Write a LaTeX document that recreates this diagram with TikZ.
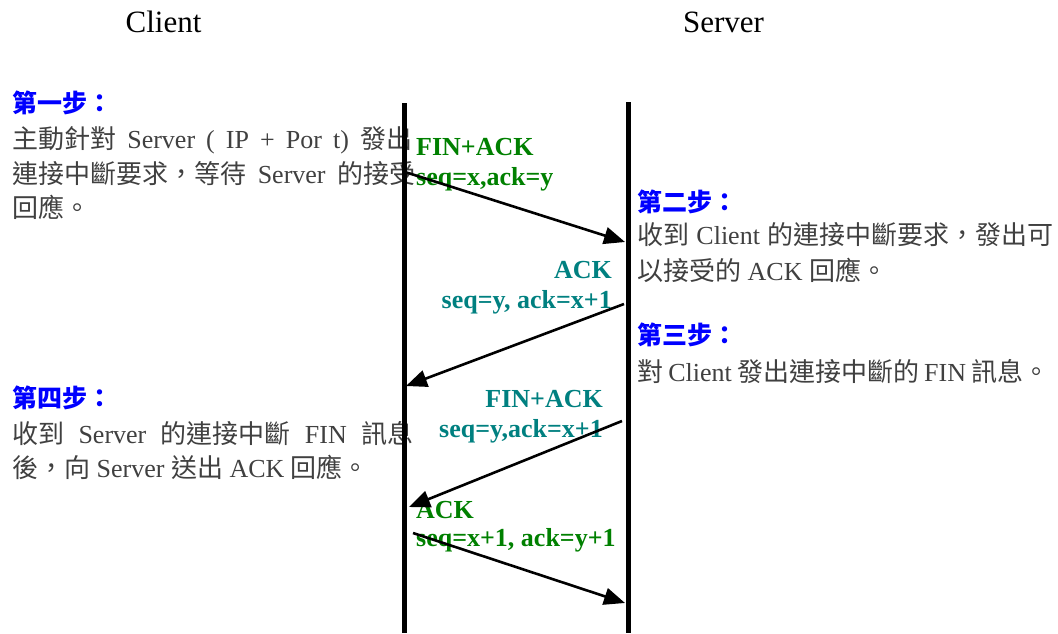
\documentclass[tikz,border=0pt]{standalone}
\usepackage{fontspec}
\setmainfont{Liberation Serif}
\newfontfamily\cjkfont{Noto Sans CJK TC}
\usetikzlibrary{arrows.meta}
\definecolor{txtgray}{RGB}{64,64,64}
\definecolor{msggreen}{RGB}{0,128,0}
\definecolor{msgteal}{RGB}{0,128,128}
\newcommand\zh[1]{{\cjkfont #1}}
\newcommand\jline[2]{\makebox[#1][s]{#2}}

\begin{document}
\begin{tikzpicture}[x=1pt,y=-1pt,
  title/.style={font=\fontsize{31}{36}\selectfont, anchor=base, inner sep=0pt},
  stephead/.style={font=\fontsize{25}{30}\selectfont\cjkfont\bfseries, text=blue, anchor=base west, inner sep=0pt},
  body/.style={font=\fontsize{26}{30}\selectfont, text=txtgray, anchor=base west, inner sep=0pt},
  msg/.style={font=\fontsize{26}{30}\selectfont\bfseries, inner sep=0pt},
  lifeline/.style={line width=5pt},
  msgline/.style={line width=2.6pt, -{Triangle[length=21pt,width=17pt]}}]

\useasboundingbox (0,0) rectangle (1058,633);

% column titles
\node[title] (tclient) at (163.5,32) {Client};
\node[title] (tserver) at (723.5,32) {Server};

% step 1 (client side)
\node[stephead] (s1h) at (12,112) {第一步：};
\node[body] (s1a) at (12,148) {\jline{400pt}{\zh{主動針對} Server ( IP + Por t) \zh{發出}}};
\node[body] (s1b) at (12,183) {\jline{403pt}{\zh{連接中斷要求，等待} Server \zh{的接受}}};
\node[body] (s1c) at (12,217) {\zh{回應。}};

% step 2 (server side)
\node[stephead] (s2h) at (637,211) {第二步：};
\node[body] (s2a) at (637,244) {\jline{416pt}{\zh{收到} Client \zh{的連接中斷要求，發出可}}};
\node[body] (s2b) at (637,280) {\zh{以接受的} ACK \zh{回應。}};

% step 3 (server side)
\node[stephead] (s3h) at (637,344) {第三步：};
\node[body] (s3a) at (637,381) {\jline{412pt}{\zh{對} Client \zh{發出連接中斷的} FIN \zh{訊息。}}};

% step 4 (client side)
\node[stephead] (s4h) at (12,407) {第四步：};
\node[body] (s4a) at (12,443) {\jline{401pt}{\zh{收到} Server \zh{的連接中斷} FIN \zh{訊息}}};
\node[body] (s4b) at (12,477) {\zh{後，向} Server \zh{送出} ACK \zh{回應。}};

% lifelines
\coordinate (ctop) at (404,103);
\coordinate (cbot) at (404,633);
\coordinate (stop) at (628,102);
\coordinate (sbot) at (628,633);
\draw[lifeline] (ctop) -- (cbot);
\draw[lifeline] (stop) -- (sbot);

% message labels
\node[msg, text=msggreen, anchor=base west] (m1a) at (416,155) {FIN+ACK};
\node[msg, text=msggreen, anchor=base west] (m1b) at (416,185) {seq=x,ack=y};
\node[msg, text=msgteal, anchor=base east] (m2a) at (612,278) {ACK};
\node[msg, text=msgteal, anchor=base east] (m2b) at (612,308) {seq=y, ack=x+1};
\node[msg, text=msgteal, anchor=base east] (m3a) at (603,407) {FIN+ACK};
\node[msg, text=msgteal, anchor=base east] (m3b) at (603,437) {seq=y,ack=x+1};
\node[msg, text=msggreen, anchor=base west] (m4a) at (416,518) {ACK};
\node[msg, text=msggreen, anchor=base west] (m4b) at (416,546) {seq=x+1, ack=y+1};

% message arrows between the lifelines
\coordinate (a1s) at (405,172);
\coordinate (a1e) at (625,242);
\coordinate (a2s) at (624,304);
\coordinate (a2e) at (406,386);
\coordinate (a3s) at (622,421);
\coordinate (a3e) at (409,507);
\coordinate (a4s) at (413,533);
\coordinate (a4e) at (625,603);
\draw[msgline] (a1s) -- (a1e);
\draw[msgline] (a2s) -- (a2e);
\draw[msgline] (a3s) -- (a3e);
\draw[msgline] (a4s) -- (a4e);
\end{tikzpicture}
\end{document}
